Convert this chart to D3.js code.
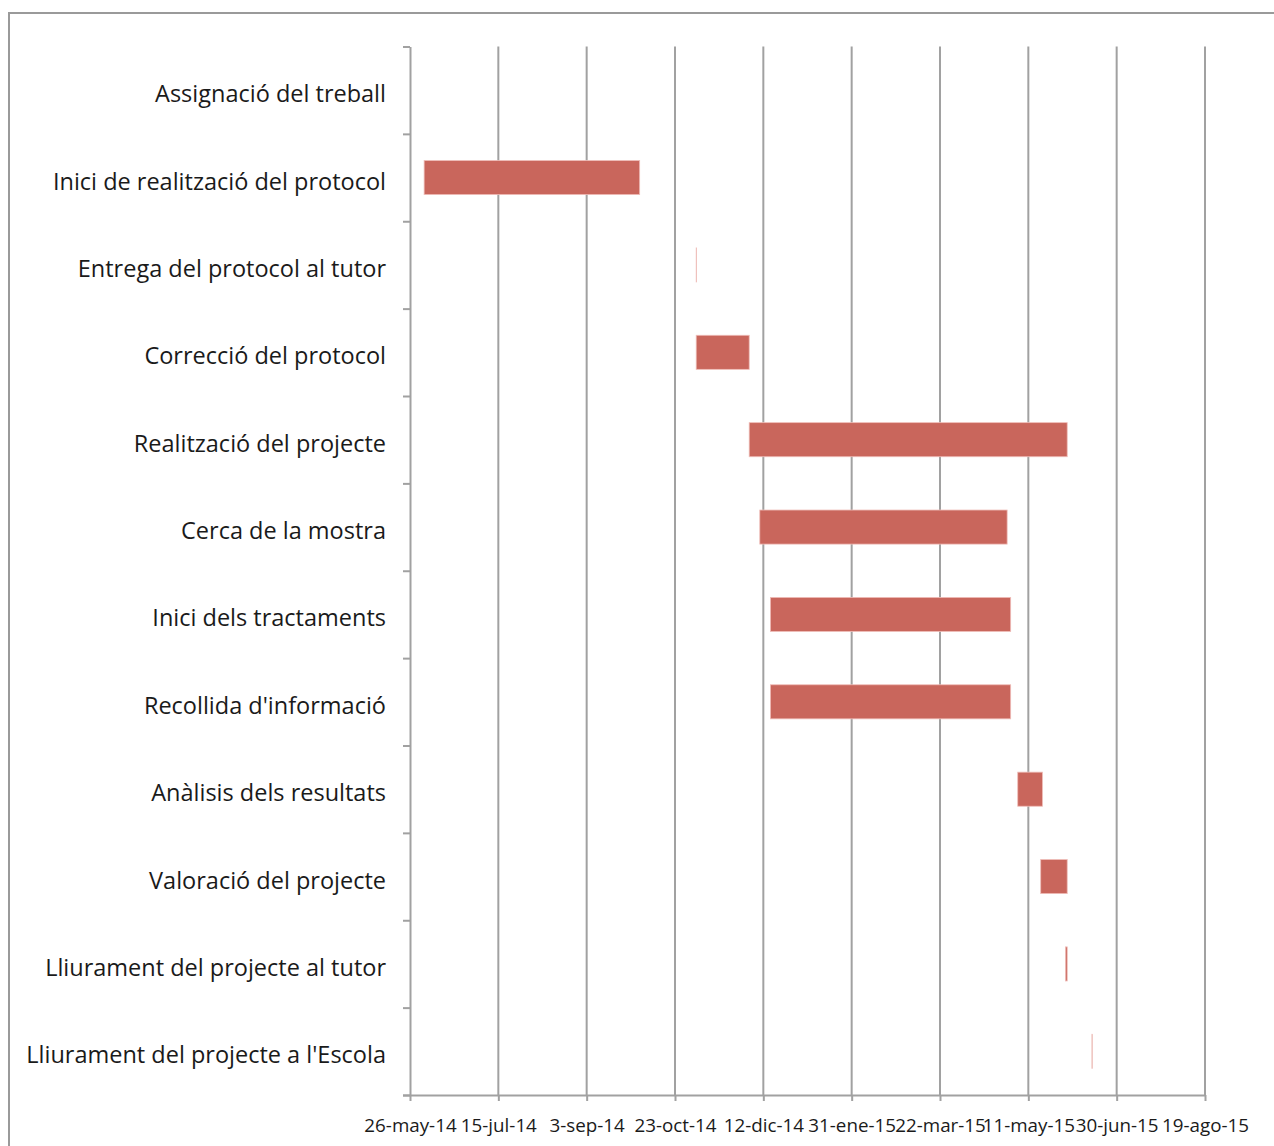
<!DOCTYPE html>
<html>
<head>
<meta charset="utf-8">
<script src="https://cdn.jsdelivr.net/npm/d3@7/dist/d3.min.js"></script>
<style>
  html, body { margin: 0; padding: 0; background: #fff; }
  svg { display: block; }
</style>
</head>
<body>
<svg id="chart" width="1274" height="1146"></svg>
<script>
// Project tasks (top to bottom)
const tasks = [
  "Assignació del treball",
  "Inici de realització del protocol",
  "Entrega del protocol al tutor",
  "Correcció del protocol",
  "Realització del projecte",
  "Cerca de la mostra",
  "Inici dels tractaments",
  "Recollida d'informació",
  "Anàlisis dels resultats",
  "Valoració del projecte",
  "Lliurament del projecte al tutor",
  "Lliurament del projecte a l'Escola"
];

// Start and end date of every task (null = no bar drawn)
const startDates = [
  null, "2014-06-03", "2014-11-04", "2014-11-04", "2014-12-04", "2014-12-10",
  "2014-12-16", "2014-12-16", "2015-05-05", "2015-05-18", "2015-06-01", "2015-06-16"
];
const endDates = [
  null, "2014-10-03", "2014-11-04", "2014-12-04", "2015-06-02", "2015-04-29",
  "2015-05-01", "2015-05-01", "2015-05-19", "2015-06-02", "2015-06-02", "2015-06-16"
];

// Time axis: ticks every 50 days
const axisStart = "2014-05-26";
const axisEnd = "2015-08-19";
const tickDates = [
  "2014-05-26", "2014-07-15", "2014-09-03", "2014-10-23", "2014-12-12",
  "2015-01-31", "2015-03-22", "2015-05-11", "2015-06-30", "2015-08-19"
];
const tickLabels = [
  "26-may-14", "15-jul-14", "3-sep-14", "23-oct-14", "12-dic-14",
  "31-ene-15", "22-mar-15", "11-may-15", "30-jun-15", "19-ago-15"
];

const parse = d3.utcParse("%Y-%m-%d");
const rows = tasks.map((t, i) => ({
  task: t,
  start: startDates[i] ? parse(startDates[i]) : null,
  end: endDates[i] ? parse(endDates[i]) : null
}));

const svg = d3.select("#chart");
const FONT = "'Open Sans', Lato, sans-serif";
const GRID = "#a1a1a1";

// outer frame
svg.append("rect")
  .attr("x", 9).attr("y", 13)
  .attr("width", 1400).attr("height", 1400)
  .attr("fill", "none").attr("stroke", "#9a9a9a").attr("stroke-width", 2);

const plotLeft = 410, plotRight = 1205, plotTop = 46.5, plotBottom = 1095;

const x = d3.scaleUtc()
  .domain([parse(axisStart), parse(axisEnd)])
  .range([plotLeft, plotRight]);

const y = d3.scaleBand()
  .domain(tasks)
  .range([plotTop, plotBottom])
  .paddingInner(0.61)
  .paddingOuter(0.305);

// category boundaries for the y tick marks
const yEdge = d3.scaleLinear().domain([0, tasks.length]).range([plotTop, plotBottom]);

// vertical gridlines
svg.append("g")
  .selectAll("line")
  .data(tickDates.slice(1))
  .join("line")
  .attr("x1", d => x(parse(d))).attr("x2", d => x(parse(d)))
  .attr("y1", plotTop).attr("y2", plotBottom)
  .attr("stroke", GRID).attr("stroke-width", 2);

// x axis
const xAxis = svg.append("g")
  .attr("transform", `translate(0,${plotBottom})`)
  .call(d3.axisBottom(x)
    .tickValues(tickDates.map(parse))
    .tickFormat((d, i) => tickLabels[i])
    .tickSize(6)
    .tickSizeOuter(0)
    .tickPadding(17.5));
xAxis.select(".domain").attr("stroke", GRID).attr("stroke-width", 2)
  .attr("d", `M${plotLeft - 7},0.5H${plotRight}`);
xAxis.selectAll(".tick line").attr("stroke", GRID).attr("stroke-width", 2);
xAxis.selectAll(".tick text")
  .attr("fill", "#1a1a1a")
  .style("font-family", FONT)
  .style("font-size", "18.8px");

// y axis with ticks at category boundaries
const yAxis = svg.append("g")
  .attr("transform", `translate(${plotLeft},0)`)
  .call(d3.axisLeft(yEdge)
    .tickValues(d3.range(tasks.length + 1))
    .tickFormat("")
    .tickSize(7)
    .tickSizeOuter(0));
yAxis.select(".domain").attr("stroke", GRID).attr("stroke-width", 2);
yAxis.selectAll(".tick line").attr("stroke", GRID).attr("stroke-width", 2);

// task labels
svg.append("g")
  .selectAll("text")
  .data(tasks)
  .join("text")
  .attr("x", 386)
  .attr("y", d => y(d) + y.bandwidth() / 2 + 12)
  .attr("text-anchor", "end")
  .attr("fill", "#1a1a1a")
  .style("font-family", FONT)
  .style("font-size", "23.5px")
  .text(d => d);

// task bars
svg.append("g")
  .selectAll("rect")
  .data(rows.filter(r => r.start))
  .join("rect")
  .attr("x", d => x(d.start))
  .attr("y", d => y(d.task))
  .attr("width", d => Math.max(x(d.end) - x(d.start), 0.3))
  .attr("height", y.bandwidth())
  .attr("fill", "#c9665c")
  .attr("stroke", "#efbdb8")
  .attr("stroke-width", 0.8);
</script>
</body>
</html>
